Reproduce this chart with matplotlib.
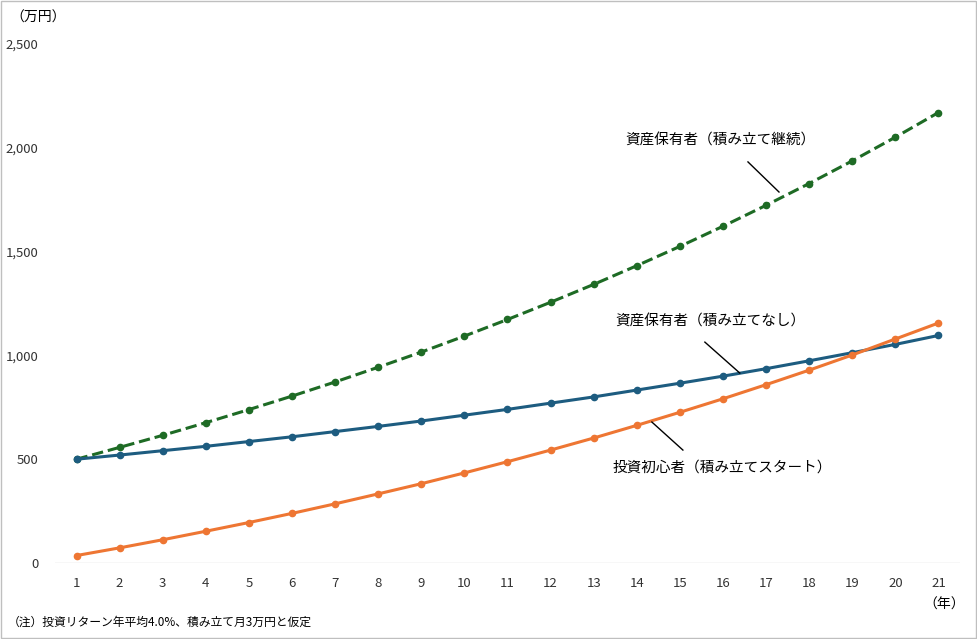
import matplotlib.pyplot as plt
from matplotlib.patches import Rectangle

plt.rcParams['font.family'] = ['Noto Sans CJK JP', 'DejaVu Sans']

years = list(range(1, 22))
holder_continue = [500, 557, 615, 676, 739, 804, 872, 943, 1016, 1093, 1173, 1256,
                   1342, 1432, 1525, 1622, 1723, 1828, 1937, 2051, 2170]
holder_none = [500, 520, 541, 562, 585, 608, 633, 658, 684, 712, 740, 770,
               800, 833, 866, 900, 936, 974, 1013, 1053, 1096]
beginner = [36, 73, 112, 153, 195, 239, 285, 333, 382, 434, 488, 544,
            602, 663, 726, 791, 859, 929, 1002, 1079, 1156]
yticks = [0, 500, 1000, 1500, 2000, 2500]

fig = plt.figure(figsize=(9.78, 6.39), dpi=100)
ax = fig.add_axes([55 / 978, 1 - 563 / 639, 905 / 978, (563 - 44) / 639])

ax.plot(years, holder_continue, '--', color='#1e6b25', lw=2.2, marker='o', ms=4.5)
ax.plot(years, holder_none, '-', color='#1d5c80', lw=2.2, marker='o', ms=4.5)
ax.plot(years, beginner, '-', color='#ee7633', lw=2.2, marker='o', ms=4.5)

ax.set_xlim(0.5, 21.5)
ax.set_ylim(0, 2500)
ax.set_xticks(years)
ax.set_yticks(yticks)
ax.set_yticklabels([f'{v:,}' for v in yticks])
ax.tick_params(length=0, labelsize=9.5, colors='#333333')
ax.tick_params(axis='x', pad=10)
ax.tick_params(axis='y', pad=12)
for s in ax.spines.values():
    s.set_visible(False)
ax.axhline(0, color='#d9d9d9', lw=1, zorder=0)

# annotations with leader lines
ax.text(15.93, 2037, '資産保有者（積み立て継続）', ha='center', va='center', fontsize=10.5)
ax.plot([16.58, 17.30], [1932, 1787], color='black', lw=1)
ax.text(15.70, 1161, '資産保有者（積み立てなし）', ha='center', va='center', fontsize=10.5)
ax.plot([15.58, 16.39], [1064, 915], color='black', lw=1)
ax.text(15.98, 458, '投資初心者（積み立てスタート）', ha='center', va='center', fontsize=10.5)
ax.plot([15.07, 14.35], [544, 679], color='black', lw=1)

fig.text(10 / 978, 1 - 18 / 639, '（万円）', fontsize=10, va='center')
fig.text(965 / 978, 1 - 605 / 639, '（年）', fontsize=10, va='center', ha='right')
fig.text(8 / 978, 1 - 622 / 639, '（注）投資リターン年平均4.0%、積み立て月3万円と仮定',
         fontsize=8.5, va='center')

fig.patches.append(Rectangle((0.001, 0.001), 0.997, 0.997, transform=fig.transFigure,
                             fill=False, edgecolor='#bfbfbf', lw=1))

fig.savefig('out.png', dpi=100)
